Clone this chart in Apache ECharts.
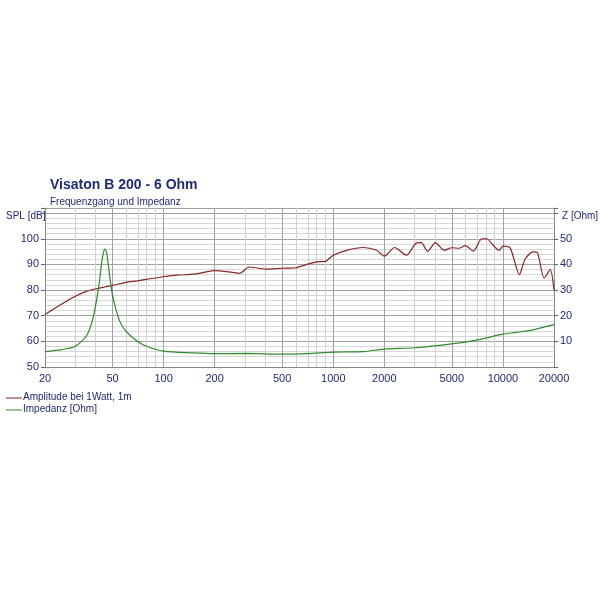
<!DOCTYPE html>
<html><head><meta charset="utf-8">
<script src="https://cdn.jsdelivr.net/npm/echarts@6/dist/echarts.min.js"></script>
<style>html,body{margin:0;background:#fff}#c{width:600px;height:600px}</style></head>
<body><div id="c"></div>
<script>
const splFreq = [20,25,30,35,40,45,50,60,70,85,100,120,150,170,200,250,280,320,400,500,600,700,800,900,1000,1200,1500,1800,2000,2300,2700,3100,3300,3600,4000,4500,5000,5500,6000,6700,7500,8000,9000,9500,10000,11000,11500,12500,13500,15000,16000,17500,19000,20000];
const splDb   = [70.5,74.5,77.5,79.5,80.5,81.2,81.8,83,83.6,84.5,85.2,85.8,86.2,86.8,87.6,87,86.5,89,88.2,88.5,88.7,90,91,91.2,93.6,95.5,96.6,95.5,93.2,96.6,93.6,98.4,98.5,95.1,98.5,95.5,96.5,96.3,97.3,95.2,100,100,96.6,95.5,97.1,96.5,93,86,92,94.9,94.5,84.6,88,80];
const impFreq = [20,25,30,35,38,40,42,43,44,45,46,47,48,50,55,60,70,80,100,150,200,300,500,700,1000,1500,2000,3000,5000,7000,10000,12000,15000,20000];
const impOhm  = [6,6.8,8,12,18,25,34,40,44,46,45,41,36,28,18,14,10,8,6.2,5.5,5.2,5.3,5,5.2,5.8,6,7,7.5,9,10.5,12.8,13.5,14.5,16.5];
const gridFreqs = [30,40,50,60,70,80,90,100,200,300,400,500,600,700,800,900,1000,2000,3000,4000,5000,6000,7000,8000,9000,10000];
const labelFreqs = [20,50,100,200,500,1000,2000,5000,10000,20000];
const navy = '#1f2a7a';
const lg = Math.log10;
const chart = echarts.init(document.getElementById('c'));
chart.setOption({
  animation:false,
  backgroundColor:'#fff',
  textStyle:{fontFamily:'Liberation Sans, Arial'},
  title:[{text:'Visaton B 200 - 6 Ohm',left:45,top:173,textStyle:{fontSize:14,fontWeight:'bold',color:navy}},
         {text:'Frequenzgang und Impedanz',left:45,top:192,textStyle:{fontSize:10,fontWeight:'normal',color:navy}},
         {text:'SPL [dB]',left:1,top:206,textStyle:{fontSize:10,fontWeight:'normal',color:navy}},
         {text:'Z [Ohm]',left:557,top:206,textStyle:{fontSize:10,fontWeight:'normal',color:navy}}],
  grid:{left:45,right:46,top:208,bottom:233},
  xAxis:{type:'value',min:lg(20),max:lg(20000),
         axisLabel:{customValues:labelFreqs.map(lg),formatter:v=>String(Math.round(Math.pow(10,v))),color:navy,fontSize:11,margin:6},
         axisTick:{show:false},splitLine:{show:false},
         axisLine:{lineStyle:{color:'#888'}}},
  yAxis:[{type:'value',min:50,max:112,interval:10,
           axisLabel:{color:navy,fontSize:11,margin:6,formatter:v=>v>100?'':v},axisTick:{show:true,length:4,lineStyle:{color:'#666'}},
           axisLine:{show:true,lineStyle:{color:'#888'}},
           splitLine:{lineStyle:{color:'#a0a0a0'}},
           minorTick:{show:false,splitNumber:5},minorSplitLine:{show:true,lineStyle:{color:'#d8d8d8'}}},
         {type:'value',min:0,max:62,interval:10,position:'right',
           axisLabel:{color:navy,fontSize:11,margin:6,formatter:v=>(v===0||v>50)?'':v},axisTick:{show:true,length:4,lineStyle:{color:'#666'}},
           axisLine:{show:true,lineStyle:{color:'#888'}},splitLine:{show:false}}],
  series:[
    {type:'line',name:'Amplitude bei 1Watt, 1m',data:splFreq.map((f,i)=>[lg(f),splDb[i]]),showSymbol:false,smooth:0.25,
     lineStyle:{color:'#8b2323',width:1.2},z:5,
     markLine:{silent:true,symbol:'none',animation:false,
       data:gridFreqs.map(f=>({xAxis:lg(f),
         lineStyle:{color:labelFreqs.includes(f)?'#a0a0a0':'#d0d0d0',type:'solid',width:1},
         label:{show:false}}))}},
    {type:'line',name:'Impedanz [Ohm]',yAxisIndex:1,data:impFreq.map((f,i)=>[lg(f),impOhm[i]]),showSymbol:false,smooth:0.25,
     lineStyle:{color:'#2e8b2e',width:1.2},z:5}
  ],
  graphic:[
    {type:'line',shape:{x1:6,y1:398,x2:22,y2:398},style:{stroke:'#8b2323',lineWidth:1}},
    {type:'text',left:23,top:392,style:{text:'Amplitude bei 1Watt, 1m',fill:navy,font:'10px Liberation Sans, Arial'}},
    {type:'line',shape:{x1:6,y1:410,x2:22,y2:410},style:{stroke:'#2e8b2e',lineWidth:1}},
    {type:'text',left:23,top:404,style:{text:'Impedanz [Ohm]',fill:navy,font:'10px Liberation Sans, Arial'}}
  ]
});
</script></body></html>
